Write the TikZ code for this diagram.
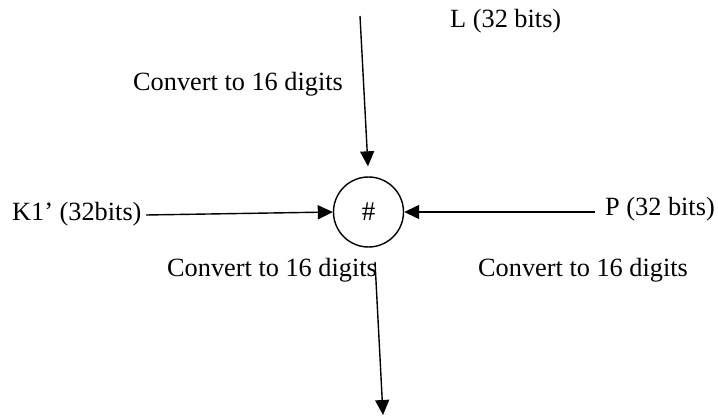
\documentclass[tikz,border=0pt]{standalone}
\usepackage{fontspec}
\setmainfont{Liberation Serif}
\usetikzlibrary{arrows.meta}
\begin{document}
\begin{tikzpicture}[x=1pt,y=-1pt,
  lbl/.style={anchor=base west,inner sep=0pt,font=\fontsize{26.3}{30}\selectfont},
  conn/.style={line width=1.4pt,-{Triangle[length=15pt,width=14pt]}},
  opnode/.style={circle,draw,line width=1.4pt,minimum size=70pt,inner sep=0pt,font=\fontsize{27}{30}\selectfont}]
\useasboundingbox (0,0) rectangle (718,417);
\node[opnode] (c) at (368.5,212) {\#};
\node[lbl] (L) at (450,28) {L (32 bits)};
\node[lbl] (cv1) at (133,91) {Convert to 16 digits};
\node[lbl] (K) at (12,221) {K1’ (32bits)};
\node[lbl] (P) at (605,215) {P (32 bits)};
\node[lbl] (cv2) at (167,276) {Convert to 16 digits};
\node[lbl] (cv3) at (478,276) {Convert to 16 digits};
\coordinate (t0) at (360,16);
\coordinate (l0) at (146,215);
\coordinate (r0) at (595,212);
\coordinate (b0) at (375,262);
\coordinate (b1) at (383,415);
\draw[conn,shorten >=10pt] (t0) -- (c.north);
\draw[conn] (l0) -- (c.west);
\draw[conn] (r0) -- (c.east);
\draw[conn] (b0) -- (b1);
\end{tikzpicture}
\end{document}
